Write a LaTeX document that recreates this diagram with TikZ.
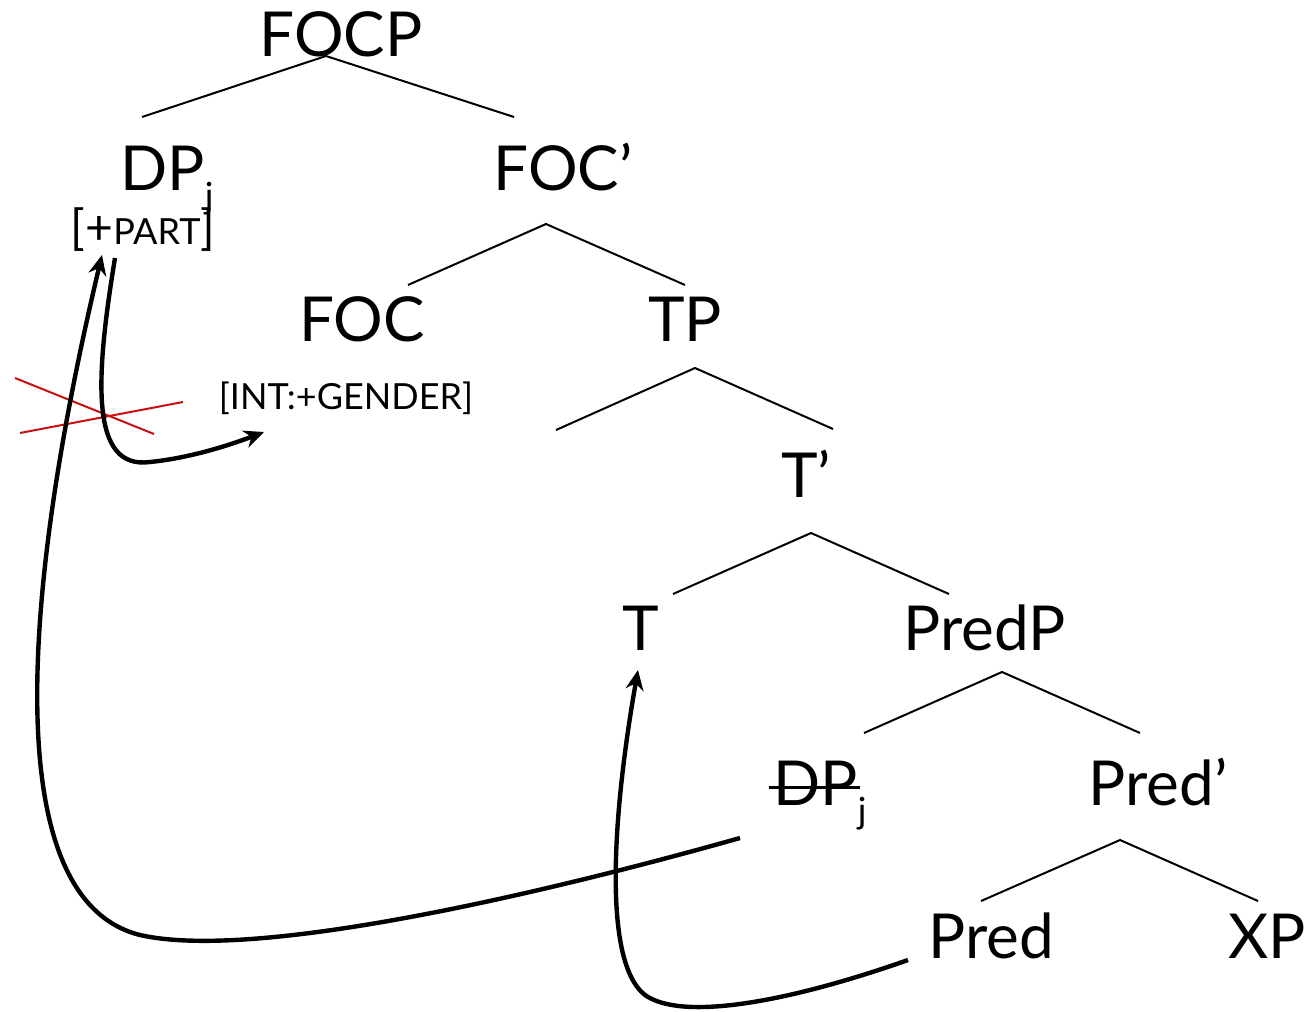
\documentclass[tikz,border=0pt]{standalone}
\usepackage{fontspec}
\setmainfont{Lato}
\usetikzlibrary{arrows.meta}
\newcommand\strikeDP[1]{\setbox0\hbox{#1}\rlap{\kern-2pt\rule[0.36\ht0]{\dimexpr\wd0+3pt\relax}{1.3pt}}\box0}
\begin{document}
\begin{tikzpicture}[x=0.5pt,y=-0.5pt,
  lbl/.style={inner sep=0pt, font=\fontsize{31}{31}\selectfont},
  feat/.style={inner sep=0pt, font=\fontsize{18}{18}\selectfont},
  branch/.style={line width=1pt},
  move/.style={line width=2.2pt, -{Stealth[length=10pt,width=9pt]}},
  ban/.style={line width=1pt, draw={rgb,255:red,200;green,16;blue,16}}]
\useasboundingbox (0,0) rectangle (1309,1011);

% labels of the tree
\node[lbl, anchor=base] (focp) at (341,57) {FOCP};
\node[lbl, anchor=base west] (dp) at (120,190) {DP\raisebox{-0.3em}{\fontsize{18}{18}\selectfont j}};
\node[inner sep=0pt, anchor=base] (part) at (143,244) {\fontsize{24}{24}\selectfont[+\fontsize{18}{18}\selectfont PART\fontsize{24}{24}\selectfont]};
\node[lbl, anchor=base] (focbar) at (563,190) {FOC’};
\node[lbl, anchor=base] (foc) at (362,341) {FOC};
\node[lbl, anchor=base] (tp) at (685,341) {TP};
\node[feat, anchor=base] (int) at (346,409) {[INT:+GENDER]};
\node[lbl, anchor=base] (tbar) at (806,497) {T’};
\node[lbl, anchor=base] (t) at (641,650) {T};
\node[lbl, anchor=base] (predp) at (985,650) {PredP};
\node[lbl, anchor=base west] (dpt) at (773,805) {\strikeDP{DP}\raisebox{-0.3em}{\fontsize{18}{18}\selectfont j}};
\node[lbl, anchor=base] (predbar) at (1158,805) {Pred’};
\node[lbl, anchor=base] (pred) at (991,958) {Pred};
\node[lbl, anchor=base] (xp) at (1267,958) {XP};

% branch end points
\coordinate (r1) at (326,56);  \coordinate (l1a) at (142,117); \coordinate (l1b) at (514,117);
\coordinate (r2) at (546,224); \coordinate (l2a) at (408,285); \coordinate (l2b) at (685,285);
\coordinate (r3) at (695,368); \coordinate (l3a) at (556,430); \coordinate (l3b) at (833,429);
\coordinate (r4) at (811,533); \coordinate (l4a) at (673,594); \coordinate (l4b) at (949,594);
\coordinate (r5) at (1002,672); \coordinate (l5a) at (864,733); \coordinate (l5b) at (1140,733);
\coordinate (r6) at (1120,840); \coordinate (l6a) at (981,901); \coordinate (l6b) at (1258,901);

\foreach \n in {1,...,6} {
  \draw[branch] (l\n a) -- (r\n) -- (l\n b);
}

% crossed-out agreement path
\coordinate (x1a) at (15,378);  \coordinate (x1b) at (154,434);
\coordinate (x2a) at (20,433);  \coordinate (x2b) at (183,402);
\draw[ban] (x1a) -- (x1b);
\draw[ban] (x2a) -- (x2b);

% movement and agreement arrows
\coordinate (dptail) at (740,838);
\coordinate (dphead) at (102,255);
\coordinate (parttail) at (115,258);
\coordinate (inthead) at (264,432);
\coordinate (predtail) at (908,960);
\coordinate (thead) at (638,670);

\draw[move] (dptail) .. controls (520,900) and (250,960) .. (140,935)
                     .. controls (0,900) and (20,600) .. (dphead);
\draw[move] (parttail) .. controls (95,380) and (90,470) .. (150,462)
                       .. controls (190,458) and (230,445) .. (inthead);
\draw[move] (predtail) .. controls (780,1005) and (680,1020) .. (645,995)
                       .. controls (600,960) and (615,800) .. (thead);
\end{tikzpicture}
\end{document}
